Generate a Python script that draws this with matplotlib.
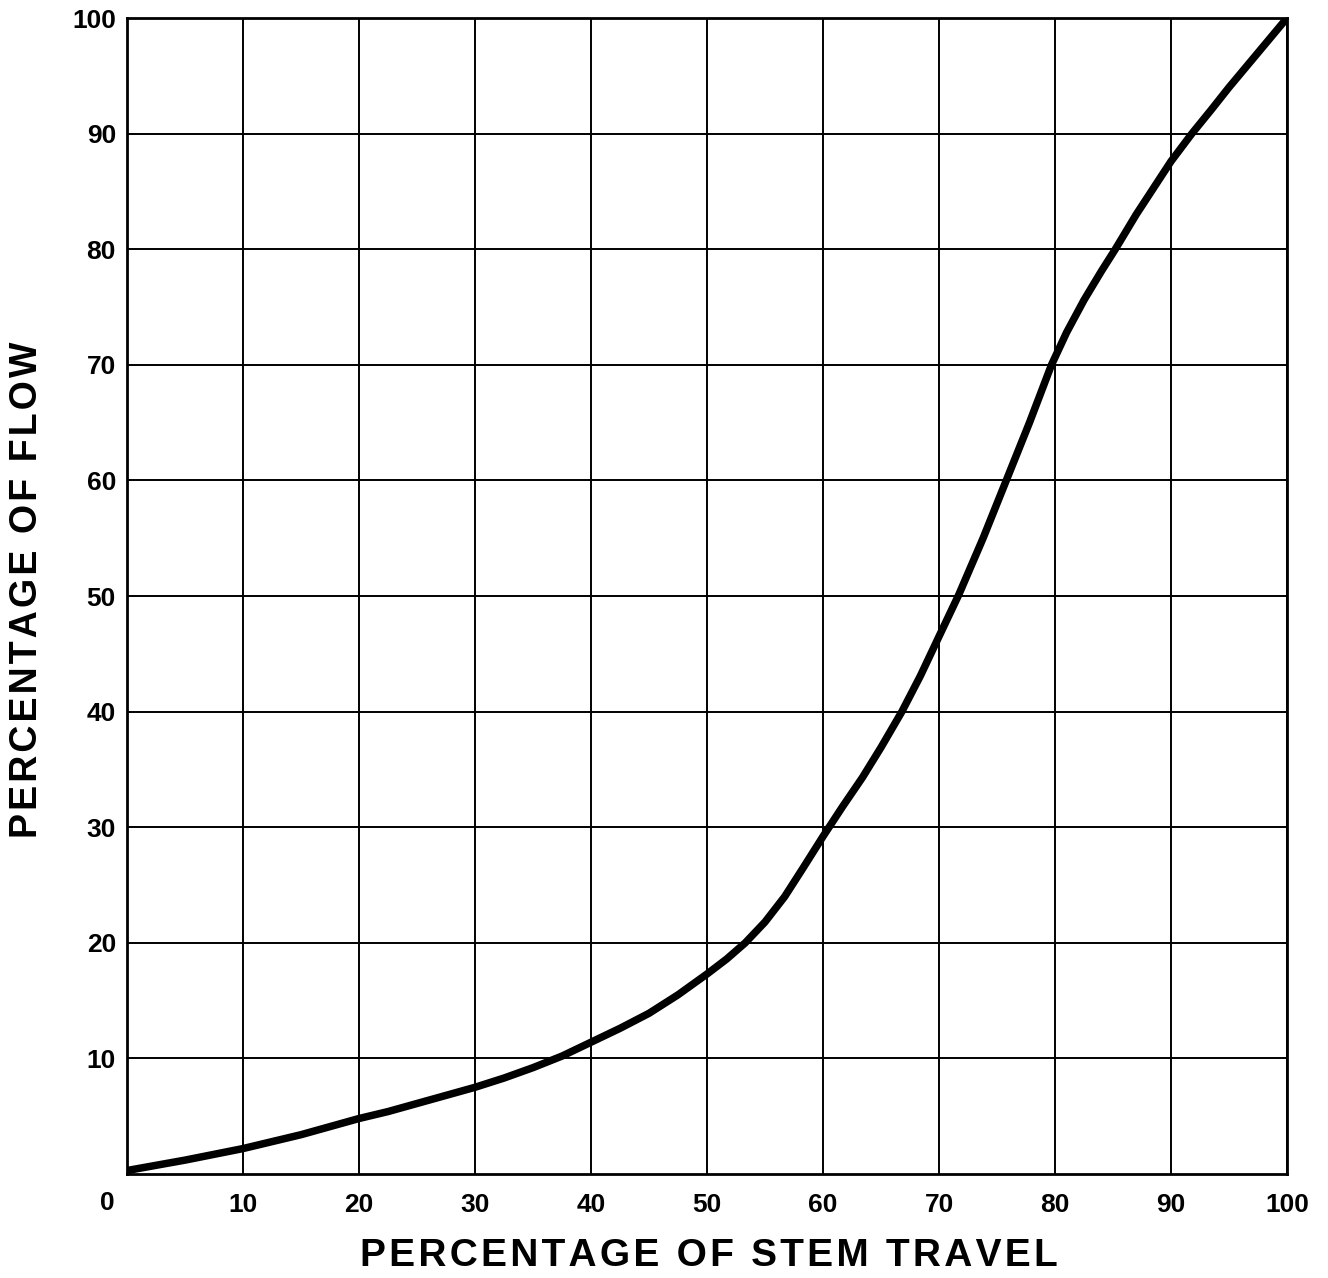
import numpy as np
import matplotlib.pyplot as plt

# stem travel (%) vs flow (%)
stem_travel = [0, 2.5, 5, 7.5, 10, 12.5, 15, 17.5, 20, 22.5, 25, 27.5, 30,
               32.5, 35, 37.5, 40, 42.5, 45, 47.5, 50, 51.7, 53.3, 55, 56.7,
               58.3, 60, 61.7, 63.4, 65, 66.8, 68.4, 70, 71.7, 73.8, 75.8,
               77.8, 79.7, 81, 82.5, 84, 85.2, 87, 88.5, 90, 91.8, 93.5, 95,
               97.5, 100]
flow = [0.3, 0.75, 1.2, 1.7, 2.2, 2.8, 3.4, 4.1, 4.8, 5.4, 6.1, 6.8, 7.5,
        8.3, 9.2, 10.2, 11.4, 12.6, 13.9, 15.5, 17.3, 18.6, 20.0, 21.8, 24.0,
        26.5, 29.2, 31.8, 34.3, 36.9, 40.0, 43.1, 46.5, 50.1, 55.0, 60.0,
        65.0, 70.0, 72.8, 75.6, 78.1, 80.0, 83.0, 85.3, 87.6, 90.0, 92.1, 94.0,
        97.0, 100.0]

x_ticks = [10, 20, 30, 40, 50, 60, 70, 80, 90, 100]
y_ticks = [10, 20, 30, 40, 50, 60, 70, 80, 90, 100]


def spaced(s):
    # wide letter tracking like the old drafting lettering
    return ' \u200a\u200a'.join('\u200a'.join(w) for w in s.split(' '))


plt.rcParams['font.family'] = ['Liberation Sans', 'DejaVu Sans']

fig = plt.figure(figsize=(13.28, 12.78), dpi=100)
ax = fig.add_axes([127 / 1328, 1 - 1174 / 1278, 1160 / 1328, 1156 / 1278])

ax.plot(stem_travel, flow, color='black', linewidth=5.4,
        solid_joinstyle='round', solid_capstyle='round', zorder=3)

ax.set_xlim(0, 100)
ax.set_ylim(0, 100)
ax.set_xticks(x_ticks)
ax.set_yticks(y_ticks)
ax.grid(True, color='black', linewidth=1.4)
ax.tick_params(length=0, labelsize=19)
ax.tick_params(axis='x', pad=14)
ax.tick_params(axis='y', pad=8)
for lbl in ax.get_xticklabels() + ax.get_yticklabels():
    lbl.set_fontweight('bold')
for sp in ax.spines.values():
    sp.set_linewidth(2)

# corner "0" shared by both axes
ax.text(-0.017, -0.025, '0', transform=ax.transAxes, ha='center', va='center',
        fontsize=19, fontweight='bold')

fig.text(709 / 1328, 1 - 1256 / 1278, spaced('PERCENTAGE OF STEM TRAVEL'),
         ha='center', va='center', fontsize=28, fontweight='bold')
fig.text(27 / 1328, 1 - 590 / 1278, spaced('PERCENTAGE OF FLOW'),
         ha='center', va='center', rotation=90, fontsize=27, fontweight='bold')

plt.savefig('out.png', dpi=100)
